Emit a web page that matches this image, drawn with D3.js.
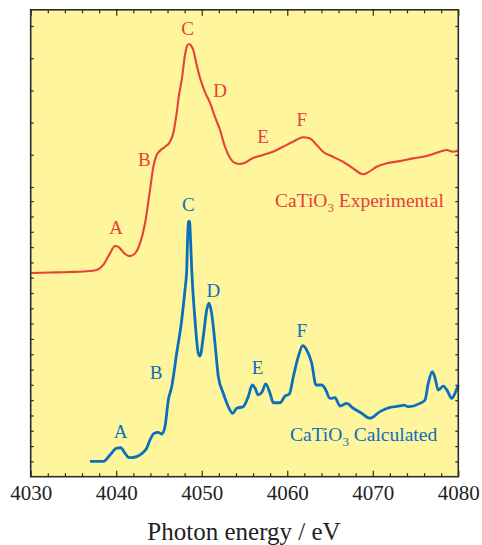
<!DOCTYPE html>
<html>
<head>
<meta charset="utf-8">
<script src="https://cdn.jsdelivr.net/npm/d3@7"></script>
<style>
  html, body { margin: 0; padding: 0; background: #fff; }
  svg { display: block; }
  svg text { font-family: "Liberation Serif", "Times New Roman", serif; }
</style>
</head>
<body>
<svg id="chart" width="482" height="545"></svg>
<script>
// Ca K-edge XANES of CaTiO3: measured spectrum (offset upward) and calculated spectrum.
const expEnergy = [4030.0, 4032.26, 4034.6, 4036.93, 4037.72, 4038.49, 4039.27, 4039.86, 4040.21, 4040.44,
  4041.03, 4041.61, 4042.2, 4042.78, 4043.37, 4043.95, 4044.34, 4044.73, 4045.12, 4045.7,
  4046.29, 4046.67, 4047.07, 4047.34, 4047.66, 4048.04, 4048.28, 4048.51, 4048.74, 4049.01,
  4049.41, 4049.8, 4050.38, 4050.97, 4051.55, 4052.14, 4052.72, 4053.31, 4053.89, 4054.48,
  4055.06, 4056.0, 4057.16, 4058.33, 4059.5, 4060.67, 4061.84, 4062.66, 4063.44, 4064.18,
  4065.35, 4066.52, 4067.69, 4068.86, 4069.44, 4070.46, 4071.63, 4073.18, 4074.7, 4076.31,
  4077.47, 4078.64, 4079.38, 4079.97];
const expIntensity = [0.066, 0.069, 0.072, 0.078, 0.084, 0.116, 0.188, 0.234, 0.23, 0.219,
  0.184, 0.171, 0.188, 0.25, 0.375, 0.581, 0.726, 0.799, 0.825, 0.85,
  0.881, 0.934, 1.06, 1.171, 1.265, 1.42, 1.476, 1.488, 1.479, 1.451,
  1.358, 1.277, 1.19, 1.122, 1.035, 0.954, 0.85, 0.78, 0.749, 0.743,
  0.751, 0.78, 0.799, 0.819, 0.85, 0.881, 0.909, 0.902, 0.861, 0.819,
  0.788, 0.757, 0.716, 0.679, 0.691, 0.726, 0.747, 0.761, 0.778, 0.793,
  0.813, 0.83, 0.819, 0.825];

const calcEnergy = [4036.93, 4038.49, 4039.27, 4040.06, 4040.52, 4041.03, 4041.41, 4041.85, 4042.39, 4043.17,
  4043.56, 4043.95, 4044.42, 4044.89, 4045.32, 4045.7, 4046.09, 4046.49, 4047.07, 4047.66, 4048.04,
  4048.24, 4048.34, 4048.45, 4048.57, 4048.69, 4048.83, 4049.21, 4049.6, 4049.8, 4050.18,
  4050.58, 4050.85, 4051.16, 4051.55, 4051.94, 4052.52, 4053.11, 4053.62, 4054.09, 4054.86,
  4055.44, 4055.91, 4056.23, 4056.61, 4057.05, 4057.48, 4057.98, 4058.37, 4059.15, 4059.74,
  4060.24, 4060.71, 4061.29, 4061.81, 4062.27, 4062.86, 4063.36, 4064.03, 4064.41, 4065.0,
  4065.58, 4066.17, 4066.95, 4067.72, 4068.7, 4069.67, 4070.84, 4072.01, 4073.18, 4073.65,
  4074.15, 4075.52, 4076.11, 4076.49, 4076.96, 4077.28, 4077.66, 4078.25, 4078.71, 4079.23,
  4079.61, 4080.0];
const calcIntensity = [0.0, 0.0, 0.042, 0.086, 0.089, 0.053, 0.027, 0.025, 0.031, 0.06,
  0.086, 0.14, 0.183, 0.19, 0.179, 0.227, 0.401, 0.488, 0.706, 0.924, 1.12,
  1.25, 1.446, 1.564, 1.57, 1.446, 1.25, 0.924, 0.706, 0.688, 0.815,
  0.989, 1.033, 0.967, 0.771, 0.553, 0.445, 0.357, 0.314, 0.347, 0.357,
  0.423, 0.499, 0.479, 0.434, 0.453, 0.506, 0.445, 0.383, 0.383, 0.427,
  0.44, 0.553, 0.684, 0.756, 0.728, 0.641, 0.499, 0.499, 0.477, 0.412,
  0.416, 0.362, 0.379, 0.347, 0.314, 0.282, 0.325, 0.353, 0.362, 0.368,
  0.357, 0.379, 0.401, 0.51, 0.586, 0.545, 0.466, 0.492, 0.462, 0.412,
  0.445, 0.499];

// Feature labels: letter, energy (eV), intensity where the letter sits
const expFeatures = ["A", "B", "C", "D", "E", "F"];
const expFeatureEnergy = [4039.98, 4043.28, 4048.35, 4052.14, 4057.16, 4061.7];
const expFeatureLevel = [0.308, 0.73, 1.544, 1.159, 0.873, 0.979];
const calcFeatures = ["A", "B", "C", "D", "E", "F"];
const calcFeatureEnergy = [4040.52, 4044.65, 4048.43, 4051.35, 4056.54, 4061.7];
const calcFeatureLevel = [0.153, 0.538, 1.635, 1.074, 0.569, 0.813];

const xTicks = [4030, 4040, 4050, 4060, 4070, 4080];
const xMinorTicks = d3.range(4032, 4080, 2).filter(v => v % 10 !== 0);
const calcTicks = d3.range(0, 18).map(i => +(i * 0.1).toFixed(1));
const expTicks = [0.6, 0.8, 1.0, 1.2, 1.4, 1.6];

const svg = d3.select("#chart");
const plotLeft = 30.7, plotRight = 458.3, plotTop = 9.8, plotBottom = 476.7;
const serif = '"Liberation Serif", "Times New Roman", serif';

const x = d3.scaleLinear().domain([4030, 4080]).range([plotLeft, plotRight]);
const yCalc = d3.scaleLinear().domain([-0.1, 2.95]).range([plotBottom, plotTop]);
const yExp = d3.scaleLinear().domain([-1.199, 1.7006]).range([plotBottom, plotTop]);

const red = "#e8403a", blue = "#0a6fbd", frame = "#2b2b2b";

svg.append("rect")
  .attr("x", plotLeft).attr("y", plotTop)
  .attr("width", plotRight - plotLeft).attr("height", plotBottom - plotTop)
  .attr("fill", "#fff59c");

// Ticks on all four sides, pointing into the plot
function styleAxis(g) {
  g.select(".domain").remove();
  g.selectAll("line").attr("stroke", frame).attr("stroke-width", 1.2);
}
svg.append("g").attr("transform", `translate(0,${plotBottom})`)
  .call(d3.axisBottom(x).tickValues(xTicks).tickSize(-6).tickPadding(8.5).tickFormat(d3.format("d")))
  .call(styleAxis)
  .call(g => g.attr("font-family", null).style("font-family", serif))
  .call(g => g.selectAll("text").attr("font-size", 21).attr("fill", "#222")
      .style("font-family", serif).attr("dy", "0.71em"));
svg.append("g").attr("transform", `translate(0,${plotBottom})`)
  .call(d3.axisBottom(x).tickValues(xMinorTicks).tickSize(-3.5).tickFormat(""))
  .call(styleAxis);
svg.append("g").attr("transform", `translate(0,${plotTop})`)
  .call(d3.axisTop(x).tickValues(xTicks).tickSize(-6).tickFormat(""))
  .call(styleAxis);
svg.append("g").attr("transform", `translate(0,${plotTop})`)
  .call(d3.axisTop(x).tickValues(xMinorTicks).tickSize(-3.5).tickFormat(""))
  .call(styleAxis);

[[d3.axisLeft, plotLeft], [d3.axisRight, plotRight]].forEach(([axisFn, pos]) => {
  svg.append("g").attr("transform", `translate(${pos},0)`)
    .call(axisFn(yCalc).tickValues(calcTicks).tickSize(-3).tickFormat(""))
    .call(styleAxis);
  svg.append("g").attr("transform", `translate(${pos},0)`)
    .call(axisFn(yExp).tickValues(expTicks).tickSize(-3).tickFormat(""))
    .call(styleAxis);
});

// Spectra
const expLine = d3.line()
  .x((d, i) => x(expEnergy[i]))
  .y(d => yExp(d))
  .curve(d3.curveMonotoneX);
const calcLine = d3.line()
  .x((d, i) => x(calcEnergy[i]))
  .y(d => yCalc(d))
  .curve(d3.curveMonotoneX);

svg.append("path").datum(expIntensity)
  .attr("d", expLine).attr("fill", "none")
  .attr("stroke", red).attr("stroke-width", 2.1).attr("stroke-linejoin", "round");
svg.append("path").datum(calcIntensity)
  .attr("d", calcLine).attr("fill", "none")
  .attr("stroke", blue).attr("stroke-width", 2.8).attr("stroke-linejoin", "round");

// Frame
svg.append("rect")
  .attr("x", plotLeft).attr("y", plotTop)
  .attr("width", plotRight - plotLeft).attr("height", plotBottom - plotTop)
  .attr("fill", "none").attr("stroke", frame).attr("stroke-width", 1.6);

// Feature letters
svg.append("g").selectAll("text").data(expFeatures).join("text")
  .attr("x", (d, i) => x(expFeatureEnergy[i]))
  .attr("y", (d, i) => yExp(expFeatureLevel[i]))
  .attr("text-anchor", "middle").attr("font-size", 19).attr("fill", red)
  .text(d => d);
svg.append("g").selectAll("text").data(calcFeatures).join("text")
  .attr("x", (d, i) => x(calcFeatureEnergy[i]))
  .attr("y", (d, i) => yCalc(calcFeatureLevel[i]))
  .attr("text-anchor", "middle").attr("font-size", 19).attr("fill", blue)
  .text(d => d);

// Series names with subscripted formula
function seriesName(px, py, color, suffix) {
  const t = svg.append("text").attr("x", px).attr("y", py)
    .attr("font-size", 19.5).attr("fill", color);
  t.append("tspan").text("CaTiO");
  t.append("tspan").attr("font-size", 13).attr("dy", 5).text("3");
  t.append("tspan").attr("dy", -5).text(" " + suffix);
}
seriesName(x(4058.57), yExp(0.475), red, "Experimental");
seriesName(x(4060.32), yCalc(0.13), blue, "Calculated");

// Axis title
svg.append("text")
  .attr("x", (plotLeft + plotRight) / 2 - 0.5).attr("y", 540)
  .attr("text-anchor", "middle").attr("font-size", 25).attr("fill", "#222")
  .text("Photon energy / eV");
</script>
</body>
</html>
